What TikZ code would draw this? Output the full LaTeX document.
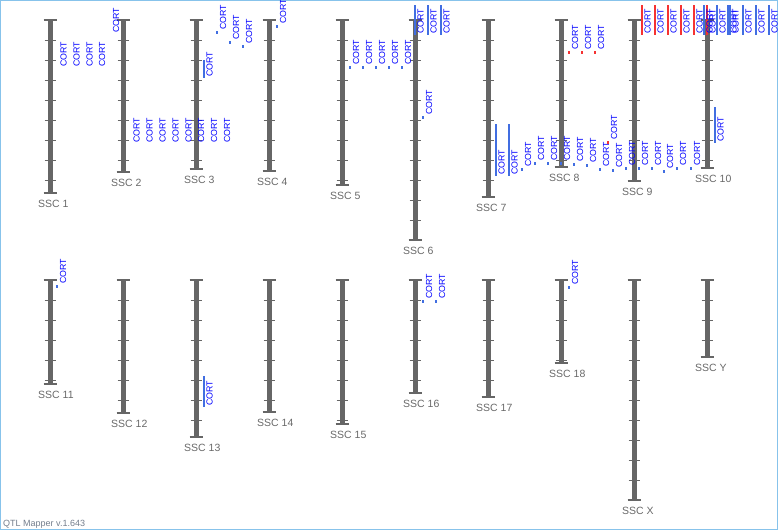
\documentclass[tikz,border=0pt]{standalone}
\usepackage{fontspec}
\setmainfont{Liberation Sans}
\usepackage{xcolor}
\usepackage{tikz}
\definecolor{chromgray}{RGB}{102,102,102}
\definecolor{labelgray}{RGB}{105,105,105}
\definecolor{cortblue}{RGB}{0,0,255}
\definecolor{qtlblue}{RGB}{65,110,225}
\definecolor{qtlred}{RGB}{245,50,50}
\definecolor{frameblue}{RGB}{135,195,235}
\definecolor{versiongray}{RGB}{115,125,140}

\begin{document}
\begin{tikzpicture}[
    x=1pt, y=-1pt,
    chrom/.style={draw=chromgray, line width=5pt},
    chromcap/.style={draw=chromgray, line width=2pt},
    chromtick/.style={draw=chromgray, line width=1pt},
    chrlabel/.style={anchor=base west, inner sep=0pt, text=labelgray, font=\fontsize{10.5}{12}\selectfont},
    cort/.style={rotate=90, anchor=west, inner sep=0pt, text=cortblue, font=\fontsize{8.8}{10}\selectfont},
    qdot/.style={fill=#1, minimum width=2.5pt, minimum height=3pt, inner sep=0pt},
    qbar/.style={draw=#1, line width=2pt}
]
\useasboundingbox (0,0) rectangle (778,530);
\draw[frameblue, line width=1pt] (0.5,0.5) rectangle (777.5,529.5);

\foreach \name/\cx/\ytop/\ybot in {1/50/20/193, 2/123/20/172, 3/196/20/169, 4/269/20/171, 5/342/20/185,
    6/415/20/240, 7/488/20/197, 8/561/20/167, 9/634/20/181, 10/707/20/168,
    11/50/280/384, 12/123/280/413, 13/196/280/437, 14/269/280/412, 15/342/280/424,
    16/415/280/393, 17/488/280/397, 18/561/280/363, X/634/280/500, Y/707/280/357}{
    \pgfmathtruncatemacro\nt{(\ybot-\ytop-1)/20}
    \draw[chrom] (\cx,\ytop) -- (\cx,\ybot);
    \draw[chromcap] (\cx-6.5,\ytop) -- (\cx+6.5,\ytop);
    \draw[chromcap] (\cx-6.5,\ybot) -- (\cx+6.5,\ybot);
    \foreach \k in {1,...,\nt}
        \draw[chromtick] (\cx-5.5,\ytop+20*\k) -- (\cx+5.5,\ytop+20*\k);
    \node[chrlabel] (ssc\name) at (\cx-12,\ybot+14.5) {SSC \name};
}

\foreach \x/\y [count=\i] in {63.5/67, 76.5/67, 89.5/67, 102/67, 116/33,
    136.5/143, 149.5/143, 162.5/143, 175.5/143, 188.5/143, 201/143, 214/143, 227/143}
    \node[cort] (plain\i) at (\x,\y) {CORT};

\foreach \x/\y/\col [count=\i] in {217/32/qtlblue, 230/42/qtlblue, 243/46/qtlblue, 277/26/qtlblue,
    350/67/qtlblue, 363/67/qtlblue, 376/67/qtlblue, 389/67/qtlblue, 402/67/qtlblue, 423/117/qtlblue,
    569/52/qtlred, 582/52/qtlred, 595/52/qtlred,
    522/169/qtlblue, 535/163/qtlblue, 548/163/qtlblue, 561/163/qtlblue, 574/164/qtlblue, 587/165/qtlblue,
    600/169/qtlblue, 608/142/qtlred, 613/170/qtlblue, 626/168/qtlblue, 639/168/qtlblue, 652/168/qtlblue,
    664/171/qtlblue, 677/168/qtlblue, 691/168/qtlblue,
    57/286/qtlblue, 423/301/qtlblue, 436/301/qtlblue, 569/287/qtlblue}{
    \node[qdot=\col] (dot\i) at (\x,\y) {};
    \node[cort] (dotlab\i) at (\x+6,\y-2) {CORT};
}

\foreach \x/\ya/\yb/\col [count=\i] in {204/60/78/qtlblue, 415/5/35/qtlblue, 428/5/35/qtlblue, 441/5/35/qtlblue,
    496/124/176/qtlblue, 509/124/176/qtlblue, 715/107/143/qtlblue, 204/376/407/qtlblue,
    642/5/35/qtlred, 655/5/35/qtlred, 668/5/35/qtlred, 681/5/35/qtlred, 694/5/35/qtlred, 707/5/35/qtlred,
    704/5/35/qtlblue, 717/5/35/qtlblue, 728/5/35/qtlblue, 730/5/35/qtlblue, 743/5/35/qtlblue,
    756/5/35/qtlblue, 769/5/35/qtlblue}{
    \draw[qbar=\col] (\x,\ya) -- (\x,\yb);
    \node[cort] (barlab\i) at (\x+5.5,\yb-1) {CORT};
}

\node[anchor=base west, inner sep=0pt, text=versiongray, font=\fontsize{9}{10}\selectfont] (version) at (3,526.5) {QTL Mapper v.1.643};
\end{tikzpicture}
\end{document}
